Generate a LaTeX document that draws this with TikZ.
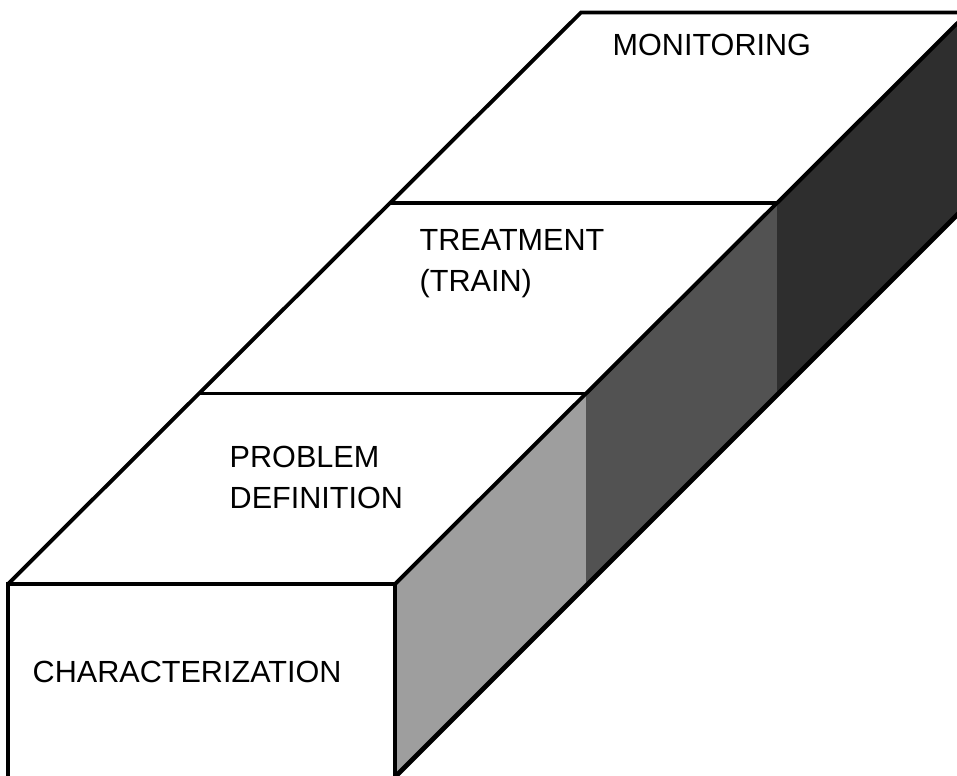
\documentclass[tikz,border=0pt]{standalone}
\usepackage{fontspec}
\setmainfont{Liberation Sans}
\begin{document}
\begin{tikzpicture}[
    x=0.01cm, y=-0.01cm,
    outline/.style={draw=black, line width=1.1pt, line join=miter},
    stagetext/.style={anchor=west, inner sep=0pt, align=left, font=\fontsize{8.7}{11.6}\selectfont},
    sidelight/.style={fill=black!38},
    sidedark/.style={fill=black!68},
    sidedarker/.style={fill=black!82}
]
\useasboundingbox (0,0) rectangle (957,775);

% Corners of the slabs (top face)
\coordinate (t0l) at (8,584);
\coordinate (t0r) at (395,584);
\coordinate (t1l) at (199,393.5);
\coordinate (t1r) at (586,393.5);
\coordinate (t2l) at (390,203);
\coordinate (t2r) at (777,203);
\coordinate (t3l) at (581,12.5);
\coordinate (t3r) at (968,12.5);

% Corners of the slabs (bottom, front one below the page edge)
\coordinate (b0l) at (8,790);
\coordinate (b0f) at (395,790);
\coordinate (b0r) at (395,777);
\coordinate (b1r) at (586,586);
\coordinate (b2r) at (777,395);
\coordinate (b3r) at (968,204);

% Side faces
\fill[sidelight] (t0r) -- (t1r) -- (b1r) -- (b0r) -- (b0f) -- cycle;
\fill[sidedark] (t1r) -- (t2r) -- (b2r) -- (b1r) -- cycle;
\fill[sidedarker] (t2r) -- (t3r) -- (b3r) -- (b2r) -- cycle;

% Front face and top face
\draw[outline, fill=white] (t0l) -- (t0r) -- (b0f) -- (b0l) -- cycle;
\draw[outline] (t0l) -- (t3l) -- (t3r) -- (t0r);
\draw[outline] (t1l) -- (t1r);
\draw[outline] (t2l) -- (t2r);
\draw[outline, line width=1.4pt] (b0r) -- (b3r);

% Stages
\node[stagetext] (charact) at (32,672) {CHARACTERIZATION};
\node[stagetext] (problem) at (229,477.5) {PROBLEM\\DEFINITION};
\node[stagetext] (treatment) at (419,264) {TREATMENT\\(TRAIN)};
\node[stagetext] (monitor) at (612,45) {MONITORING};

\end{tikzpicture}
\end{document}
